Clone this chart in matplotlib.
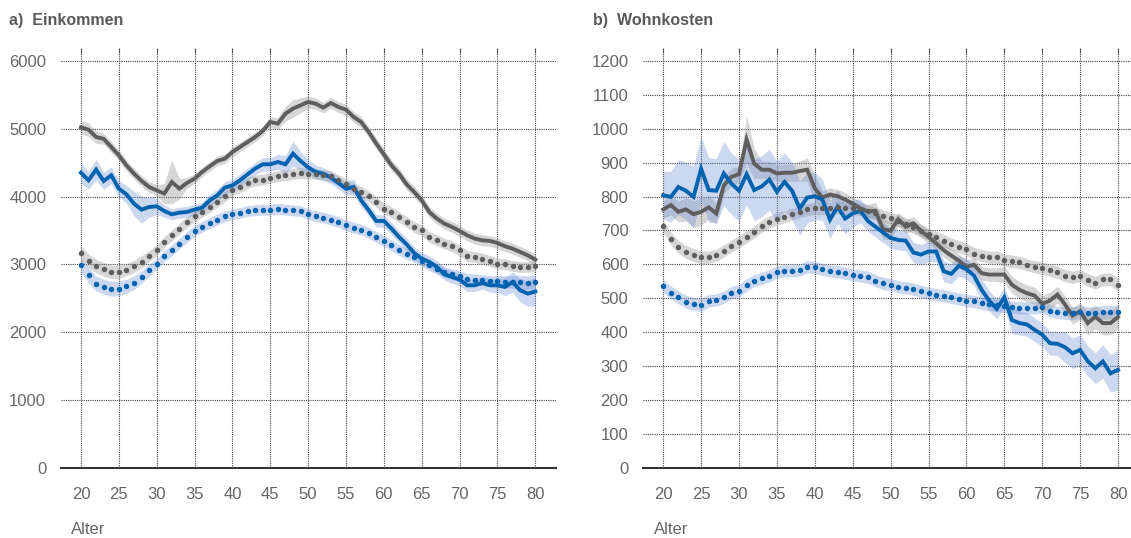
import numpy as np
import matplotlib as mpl
mpl.use('Agg')
import matplotlib.pyplot as plt

plt.rcParams['font.family'] = ['Liberation Sans', 'DejaVu Sans']

ages = list(range(20, 81))

# a) Einkommen
ink_grau = [5020, 4985, 4877, 4850, 4730, 4607, 4460, 4337, 4230, 4140,
            4090, 4043, 4214, 4116, 4200, 4263, 4362, 4445, 4524, 4558,
            4656, 4730, 4803, 4877, 4966, 5098, 5074, 5221, 5295, 5344,
            5393, 5368, 5309, 5378, 5319, 5280, 5172, 5098, 4951, 4779,
            4622, 4460, 4337, 4180, 4067, 3944, 3772, 3674, 3600, 3551,
            3492, 3429, 3380, 3355, 3345, 3316, 3267, 3232, 3183, 3134,
            3070]
ink_grau_hw = [100, 100, 90, 80, 80, 80, 80, 80, 80, 80,
               80, 150, 320, 150, 80, 70, 70, 70, 70, 70,
               70, 70, 70, 70, 70, 80, 90, 110, 130, 110,
               90, 80, 80, 80, 80, 80, 80, 80, 80, 80,
               80, 80, 80, 80, 80, 80, 80, 80, 80, 80,
               80, 80, 80, 80, 80, 80, 80, 80, 80, 80,
               80]
ink_blau = [4350, 4239, 4396, 4229, 4313, 4116, 4033, 3895, 3807, 3846,
            3856, 3787, 3738, 3763, 3772, 3807, 3836, 3944, 4018, 4131,
            4165, 4239, 4327, 4411, 4475, 4475, 4509, 4475, 4632, 4524,
            4430, 4362, 4337, 4278, 4200, 4116, 4140, 3944, 3797, 3640,
            3640, 3527, 3404, 3296, 3168, 3085, 3036, 2962, 2854, 2815,
            2776, 2692, 2692, 2727, 2692, 2692, 2668, 2741, 2619, 2570,
            2600]
ink_blau_hw = [150, 130, 150, 130, 120, 120, 130, 180, 200, 150,
               120, 90, 80, 80, 80, 80, 80, 90, 90, 90,
               90, 90, 90, 90, 100, 100, 110, 130, 180, 140,
               110, 100, 90, 90, 90, 90, 120, 100, 90, 90,
               90, 90, 90, 90, 90, 90, 90, 90, 90, 90,
               90, 90, 90, 90, 100, 110, 130, 150, 170, 190,
               210]
ink_grau_p = [3168, 3050, 2977, 2928, 2889, 2889, 2923, 2972, 3036, 3120,
              3218, 3331, 3429, 3527, 3625, 3709, 3772, 3846, 3920, 4003,
              4092, 4141, 4200, 4239, 4249, 4278, 4298, 4313, 4337, 4347,
              4337, 4337, 4313, 4298, 4239, 4180, 4116, 4067, 4003, 3920,
              3822, 3772, 3699, 3625, 3551, 3502, 3404, 3355, 3306, 3267,
              3208, 3120, 3110, 3085, 3050, 3011, 3000, 2977, 2962, 2962,
              2972]
ink_grau_p_hw = [100, 100, 100, 100, 100, 100, 90, 90, 90, 80,
                 80, 80, 80, 80, 80, 80, 80, 80, 80, 80,
                 80, 80, 80, 80, 80, 80, 80, 80, 80, 80,
                 80, 80, 80, 80, 80, 80, 80, 80, 80, 80,
                 80, 80, 80, 80, 80, 80, 80, 80, 80, 80,
                 80, 80, 80, 80, 80, 80, 80, 80, 80, 80,
                 80]
ink_blau_p = [2987, 2840, 2717, 2668, 2643, 2643, 2677, 2727, 2815, 2913,
              3002, 3120, 3208, 3306, 3404, 3492, 3551, 3610, 3660, 3709,
              3738, 3758, 3787, 3797, 3807, 3807, 3822, 3807, 3797, 3787,
              3738, 3709, 3689, 3660, 3625, 3576, 3541, 3512, 3463, 3404,
              3345, 3282, 3218, 3159, 3110, 3051, 2987, 2938, 2889, 2854,
              2825, 2791, 2776, 2766, 2756, 2756, 2746, 2741, 2736, 2731,
              2741]
ink_blau_p_hw = [110, 110, 110, 110, 110, 110, 100, 100, 90, 90,
                 80, 80, 80, 80, 80, 80, 80, 80, 80, 80,
                 80, 80, 80, 80, 80, 80, 80, 80, 80, 80,
                 80, 80, 80, 80, 80, 80, 80, 80, 80, 80,
                 80, 80, 80, 80, 80, 80, 80, 80, 80, 80,
                 80, 80, 80, 80, 80, 80, 90, 90, 100, 100,
                 100]

# b) Wohnkosten
wk_grau = [762, 775, 755, 762, 748, 755, 768, 750, 833, 858,
           866, 968, 897, 879, 879, 868, 870, 870, 875, 879,
           824, 797, 806, 801, 791, 779, 765, 756, 758, 704,
           699, 733, 711, 721, 699, 681, 662, 642, 626, 611,
           593, 599, 574, 570, 570, 570, 540, 525, 515, 508,
           484, 493, 511, 482, 449, 462, 427, 446, 427, 427,
           445]
wk_grau_hw = [25, 30, 30, 35, 40, 40, 35, 30, 25, 25,
              25, 70, 45, 25, 25, 25, 25, 25, 30, 35,
              40, 20, 20, 20, 20, 20, 20, 20, 25, 30,
              25, 20, 20, 20, 20, 20, 20, 20, 20, 20,
              20, 20, 20, 20, 20, 25, 25, 25, 25, 25,
              25, 25, 25, 25, 25, 25, 35, 35, 35, 35,
              35]
wk_blau = [804, 799, 828, 817, 799, 882, 819, 817, 868, 838,
           817, 866, 819, 830, 850, 814, 843, 817, 765, 797,
           801, 791, 732, 770, 735, 750, 758, 728, 711, 694,
           678, 672, 670, 635, 629, 638, 638, 580, 572, 596,
           586, 567, 525, 493, 469, 503, 436, 427, 423, 407,
           393, 368, 366, 356, 338, 348, 315, 294, 314, 279,
           289]
wk_blau_hw = [70, 75, 80, 85, 90, 95, 95, 95, 95, 90,
              90, 90, 90, 90, 90, 90, 85, 85, 80, 75,
              70, 60, 55, 50, 45, 40, 35, 30, 30, 30,
              30, 30, 30, 30, 30, 30, 30, 30, 30, 30,
              30, 30, 30, 30, 30, 30, 40, 35, 35, 35,
              35, 35, 35, 45, 45, 45, 45, 45, 50, 55,
              60]
wk_grau_p = [713, 676, 652, 637, 627, 621, 621, 627, 640, 654,
             667, 681, 696, 713, 725, 735, 740, 748, 755, 762,
             765, 765, 765, 768, 765, 765, 762, 758, 750, 743,
             736, 729, 719, 709, 699, 689, 680, 670, 660, 652,
             645, 632, 626, 621, 621, 613, 609, 606, 599, 593,
             589, 583, 577, 567, 562, 567, 554, 546, 556, 556,
             540]
wk_grau_p_hw = [19, 19, 19, 19, 19, 19, 18, 18, 18, 18,
                18, 18, 18, 18, 18, 18, 18, 18, 18, 18,
                18, 18, 18, 18, 18, 18, 18, 18, 18, 18,
                18, 18, 18, 18, 18, 18, 18, 18, 18, 18,
                18, 18, 18, 18, 18, 18, 18, 18, 18, 18,
                18, 18, 18, 18, 18, 18, 19, 19, 19, 19,
                19]
wk_blau_p = [537, 517, 503, 490, 483, 480, 493, 495, 503, 517,
             523, 539, 552, 559, 566, 578, 581, 581, 583, 593,
             591, 585, 581, 578, 574, 569, 566, 562, 552, 544,
             540, 534, 531, 527, 521, 515, 511, 508, 503, 498,
             493, 491, 485, 482, 479, 476, 474, 472, 472, 472,
             474, 464, 459, 456, 456, 459, 456, 456, 459, 459,
             459]
wk_blau_p_hw = [19, 19, 19, 19, 19, 19, 18, 18, 18, 18,
                18, 18, 18, 18, 18, 18, 18, 18, 18, 18,
                18, 18, 18, 18, 18, 18, 18, 18, 18, 18,
                18, 18, 18, 18, 18, 18, 18, 18, 18, 18,
                18, 18, 18, 18, 18, 18, 18, 18, 18, 18,
                18, 18, 18, 18, 19, 19, 19, 19, 20, 20,
                20]

x_ticks = list(range(20, 81, 5))

BLAU = '#0063af'
GRAU = '#5e5e5e'
BAND_BLAU = '#6d8fd6'
BAND_GRAU = '#8c8c8c'
TEXT = '#5a5a5a'


def band(ax, y, hw, col):
    y = np.array(y)
    hw = np.array(hw)
    ax.fill_between(ages, y - hw, y + hw, color=col, alpha=0.35, lw=0, zorder=2)


def panel(ax, series, ymax, ystep, ytop, xright):
    for y, hw, col, bcol, dotted in series:
        band(ax, y, hw, bcol)
    for y, hw, col, bcol, dotted in series:
        if dotted:
            ax.plot(ages, y, ls='none', marker='o', ms=3.9, mew=0,
                    color=col, zorder=4)
        else:
            ax.plot(ages, y, lw=2.8, color=col, solid_joinstyle='miter',
                    zorder=3)
    ax.set_xlim(17.33, xright)
    ax.set_ylim(0, ytop)
    ax.set_xticks(x_ticks)
    ax.set_yticks(np.arange(0, ymax + 1, ystep))
    ax.grid(True, ls=(0, (1, 1)), lw=0.8, color='#444444')
    ax.set_axisbelow(True)
    for s in ['left', 'right', 'top']:
        ax.spines[s].set_visible(False)
    ax.spines['bottom'].set_color('#333333')
    ax.spines['bottom'].set_linewidth(1.5)
    ax.spines['bottom'].set_zorder(5)
    ax.tick_params(axis='y', length=0, pad=10.5, labelsize=12,
                   labelcolor='#666666')
    ax.tick_params(axis='x', bottom=False, top=True, direction='in',
                   length=3.5, width=0.8, color='#555555', pad=14,
                   labelsize=12, labelcolor='#666666')


fig = plt.figure(figsize=(11.31, 5.38), dpi=100)
ax1 = fig.add_axes([0.0537, 0.1301, 0.4379, 0.780])
ax2 = fig.add_axes([0.5685, 0.1301, 0.4315, 0.780])

panel(ax1, [
    (ink_grau_p, ink_grau_p_hw, GRAU, BAND_GRAU, True),
    (ink_blau_p, ink_blau_p_hw, BLAU, BAND_BLAU, True),
    (ink_grau, ink_grau_hw, GRAU, BAND_GRAU, False),
    (ink_blau, ink_blau_hw, BLAU, BAND_BLAU, False),
], 6000, 1000, 6183, 82.73)

panel(ax2, [
    (wk_grau_p, wk_grau_p_hw, GRAU, BAND_GRAU, True),
    (wk_blau_p, wk_blau_p_hw, BLAU, BAND_BLAU, True),
    (wk_grau, wk_grau_hw, GRAU, BAND_GRAU, False),
    (wk_blau, wk_blau_hw, BLAU, BAND_BLAU, False),
], 1200, 100, 1236.6, 81.71)

fig.text(9 / 1131, 1 - 20.7 / 538, 'a)  Einkommen', fontsize=11.5,
         fontweight='bold', color=TEXT, va='center', ha='left')
fig.text(593 / 1131, 1 - 20.7 / 538, 'b)  Wohnkosten', fontsize=11.5,
         fontweight='bold', color=TEXT, va='center', ha='left')
fig.text(71 / 1131, 1 - 530 / 538, 'Alter', fontsize=12, color='#666666',
         va='center', ha='left')
fig.text(654 / 1131, 1 - 530 / 538, 'Alter', fontsize=12, color='#666666',
         va='center', ha='left')

fig.savefig('out.png', dpi=100)
